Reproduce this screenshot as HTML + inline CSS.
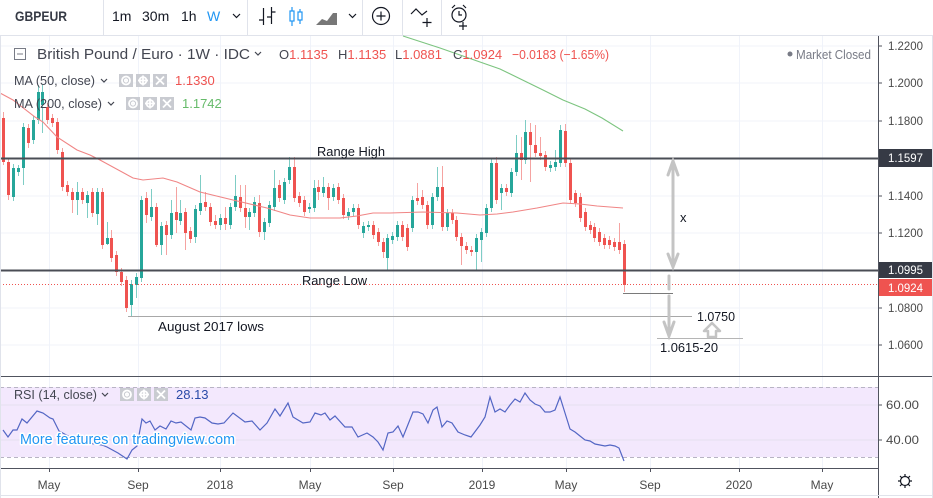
<!DOCTYPE html>
<html><head><meta charset="utf-8"><style>
html,body{margin:0;padding:0;background:#fff;overflow:hidden;width:933px;height:498px}
svg{display:block;font-family:"Liberation Sans",sans-serif}
</style></head><body>
<svg id="s" width="933" height="498" viewBox="0 0 933 498" xmlns="http://www.w3.org/2000/svg">
<rect width="933" height="498" fill="#fff"/>
<!-- toolbar -->
<line x1="0" y1="35.5" x2="933" y2="35.5" stroke="#e0e3eb"/>
<g stroke="#e0e3eb">
<line x1="103.5" y1="0" x2="103.5" y2="35"/><line x1="247.5" y1="0" x2="247.5" y2="35"/>
<line x1="362.5" y1="0" x2="362.5" y2="35"/><line x1="402.5" y1="0" x2="402.5" y2="35"/>
<line x1="441.5" y1="0" x2="441.5" y2="35"/>
</g>
<text x="15" y="21" font-size="14" font-weight="bold" fill="#363a45" textLength="52" lengthAdjust="spacingAndGlyphs">GBPEUR</text>
<g font-size="14" fill="#131722">
<text x="112" y="21">1m</text><text x="142" y="21">30m</text><text x="181" y="21">1h</text>
<text x="207" y="21" fill="#2196f3">W</text>
</g>
<g fill="none" stroke="#131722" stroke-width="1.2">
<path d="M233 14l3.5 3.5 3.5-3.5"/><path d="M349 14l3.5 3.5 3.5-3.5"/>
<path d="M263.5 8v17M259 20h4.5M271.5 7v17M271.5 12h4M267 17h4.5"/>
<circle cx="381" cy="16" r="8.5"/><path d="M381 11.5v9M376.5 16h9"/>
<path d="M411 14l5-5 6 6 5-4M427 18v9M422.5 22.5h9"/>
<circle cx="459" cy="15" r="7"/><path d="M459 11v4h3M452 8l3-3M466 8l-3-3M463 22v8M459 26h8"/>
</g>
<g fill="none" stroke="#2196f3" stroke-width="1.2">
<path d="M292 7v19M300 9v15"/><rect x="290" y="11" width="4" height="10" fill="#fff"/><rect x="298" y="12" width="4" height="8" fill="#fff"/>
</g>
<path d="M316 25l6-6 5 2 6-8h4v12z" fill="#777"/>
<!-- grid -->
<g stroke="#f0f3fa" stroke-width="1">
<line x1="0" y1="46" x2="878" y2="46"/><line x1="0" y1="83" x2="878" y2="83"/>
<line x1="0" y1="121" x2="878" y2="121"/><line x1="0" y1="158" x2="878" y2="158"/>
<line x1="0" y1="196" x2="878" y2="196"/><line x1="0" y1="233" x2="878" y2="233"/>
<line x1="0" y1="270" x2="878" y2="270"/><line x1="0" y1="308" x2="878" y2="308"/>
<line x1="0" y1="345" x2="878" y2="345"/>
<line x1="49.5" y1="36" x2="49.5" y2="468"/><line x1="138.5" y1="36" x2="138.5" y2="468"/>
<line x1="220.5" y1="36" x2="220.5" y2="468"/><line x1="310.5" y1="36" x2="310.5" y2="468"/>
<line x1="393.5" y1="36" x2="393.5" y2="468"/><line x1="482.5" y1="36" x2="482.5" y2="468"/>
<line x1="566.5" y1="36" x2="566.5" y2="468"/><line x1="650.5" y1="36" x2="650.5" y2="468"/>
<line x1="739.5" y1="36" x2="739.5" y2="468"/><line x1="822.5" y1="36" x2="822.5" y2="468"/>
</g>
<!-- RSI band -->
<rect x="0" y="387" width="878" height="70" fill="#f3e8fd"/>
<g stroke="#e6e0f0"><line x1="0" y1="405" x2="878" y2="405"/><line x1="0" y1="440" x2="878" y2="440"/></g>
<g stroke="#b8b4c4" stroke-dasharray="4 3"><line x1="0" y1="387.5" x2="878" y2="387.5"/><line x1="0" y1="457.5" x2="878" y2="457.5"/></g>
<!-- candles -->
<g id="c"></g>
<!-- MAs -->
<polyline fill="none" stroke="#f08585" stroke-width="1.1" points="0,93 13,100 35,117 43,122 57,137 77,150 90,155 100,160 133,178 143,180 163,178 177,182 200,192 233,200 267,208 290,215 310,218 340,218 357,216 373,213 390,213 423,212 457,213 480,215 497,214 513,212 537,208 563,203 580,204 597,206 623,208"/>
<polyline fill="none" stroke="#7cc47f" stroke-width="1.1" points="403,36 440,48 480,62 500,69 543,90 563,100 585,109 602,118 623,131"/>
<!-- drawings -->
<line x1="0" y1="158.5" x2="878" y2="158.5" stroke="#4a4d55" stroke-width="2"/>
<line x1="0" y1="270.5" x2="878" y2="270.5" stroke="#4a4d55" stroke-width="2"/>
<line x1="0" y1="284.5" x2="878" y2="284.5" stroke="#ef5350" stroke-width="1" stroke-dasharray="1 2"/>
<line x1="128" y1="316.5" x2="692" y2="316.5" stroke="#a8a8a8"/>
<line x1="623" y1="293.5" x2="673" y2="293.5" stroke="#7a7a7a"/>
<line x1="657" y1="338.5" x2="743" y2="338.5" stroke="#b5b5b5"/>
<g stroke="#c4c4c4" stroke-width="3" fill="none" stroke-linecap="round">
<path d="M673 162V266M668 175l5-14 5 14M668 254l5 13 5-13"/>
<path d="M669 276V289M669 296V336M664 322l5 14 5-14"/>
</g>
<polygon points="712,323 720,331 716,331 716,337 708,337 708,331 704,331" fill="#fff" stroke="#c4c4c4" stroke-width="2.5" stroke-linejoin="round"/>
<g font-size="13" fill="#131722">
<text x="317" y="156" textLength="68" lengthAdjust="spacingAndGlyphs">Range High</text>
<text x="302" y="285" textLength="65" lengthAdjust="spacingAndGlyphs">Range Low</text>
<text x="158" y="331" textLength="106" lengthAdjust="spacingAndGlyphs">August 2017 lows</text>
<text x="697" y="321" textLength="38" lengthAdjust="spacingAndGlyphs">1.0750</text>
<text x="660" y="352" textLength="58" lengthAdjust="spacingAndGlyphs">1.0615-20</text>
<text x="680" y="222">x</text>
</g>
<!-- legend -->
<rect x="14.5" y="48.5" width="11" height="11" fill="none" stroke="#787b86"/><line x1="17" y1="54" x2="23" y2="54" stroke="#787b86"/>
<text x="37" y="59" font-size="14.5" fill="#434651" textLength="213" lengthAdjust="spacingAndGlyphs">British Pound / Euro · 1W · IDC</text>
<path d="M255 52l3 3 3-3" fill="none" stroke="#434651" stroke-width="1.2"/>
<g font-size="13">
<text x="279" y="59" fill="#434651">O<tspan fill="#ef5350">1.1135</tspan></text>
<text x="338" y="59" fill="#434651">H<tspan fill="#ef5350">1.1135</tspan></text>
<text x="395" y="59" fill="#434651">L<tspan fill="#ef5350">1.0881</tspan></text>
<text x="453" y="59" fill="#434651">C<tspan fill="#ef5350">1.0924</tspan></text>
<text x="512" y="59" fill="#ef5350" textLength="97" lengthAdjust="spacingAndGlyphs">−0.0183 (−1.65%)</text>
</g>
<circle cx="790" cy="54" r="2.5" fill="#787b86"/>
<text x="796" y="59" font-size="13" fill="#787b86" textLength="75" lengthAdjust="spacingAndGlyphs">Market Closed</text>
<g font-size="13" fill="#434651">
<text x="14" y="85" textLength="81" lengthAdjust="spacingAndGlyphs">MA (50, close)</text>
<text x="14" y="108" textLength="88" lengthAdjust="spacingAndGlyphs">MA (200, close)</text>
<text x="14" y="399" textLength="83" lengthAdjust="spacingAndGlyphs">RSI (14, close)</text>
</g>
<g fill="none" stroke="#434651" stroke-width="1.2">
<path d="M101 79l3 3 3-3"/><path d="M108 102l3 3 3-3"/><path d="M102 393l3 3 3-3"/>
</g>
<g id="icons"></g>
<text x="175" y="85" font-size="13" fill="#ef5350">1.1330</text>
<text x="182" y="108" font-size="13" fill="#66bb6a">1.1742</text>
<text x="176" y="399" font-size="13" fill="#2a4aa8">28.13</text>
<!-- RSI line -->
<polyline fill="none" stroke="#5366c4" stroke-width="1.2" points="3,430 8,437 13,430 17,430 22,419 27,423 37,411 43,413 50,418 53,419 59,431 70,437 85,443 95,444 102,445 107,447 118,453 127,459 132,450 137,446 142,419 146,423 150,421 155,430 160,426 166,429 171,421 176,423 181,422 191,430 195,418 200,417 205,418 212,423 218,424 224,423 233,413 245,422 252,421 260,430 267,423 275,409 280,416 288,403 293,417 303,423 310,422 315,413 321,415 325,413 330,420 335,416 345,427 352,427 358,437 367,433 373,437 378,442 383,450 388,433 393,432 398,426 403,437 413,412 418,412 423,414 428,423 433,410 437,407 442,427 447,421 452,423 458,432 465,435 471,437 480,425 485,417 490,397 495,412 500,409 505,412 510,405 515,399 520,402 525,393 530,400 535,404 540,406 545,412 550,412 555,410 560,397 565,413 570,429 575,432 580,436 585,440 590,441 595,444 600,445 605,446 610,445 615,446 619,448 624,461"/>
<text x="20" y="444" font-size="14.5" fill="#2196f3" stroke="#fff" stroke-width="3" paint-order="stroke" stroke-linejoin="round" textLength="215" lengthAdjust="spacingAndGlyphs">More features on tradingview.com</text>
<!-- pane borders -->
<line x1="0" y1="376.5" x2="878" y2="376.5" stroke="#50535e"/>
<line x1="0" y1="468.5" x2="878" y2="468.5" stroke="#50535e"/>
<line x1="878.5" y1="36" x2="878.5" y2="498" stroke="#50535e"/>
<line x1="0" y1="376.5" x2="933" y2="376.5" stroke="#50535e"/>
<line x1="0.5" y1="36" x2="0.5" y2="498" stroke="#e0e3eb"/>
<line x1="932.5" y1="36" x2="932.5" y2="498" stroke="#e0e3eb"/>
<line x1="0" y1="495.5" x2="933" y2="495.5" stroke="#e0e3eb"/>
<!-- price axis -->
<g stroke="#50535e">
<line x1="878" y1="46" x2="882" y2="46"/><line x1="878" y1="83" x2="882" y2="83"/>
<line x1="878" y1="121" x2="882" y2="121"/><line x1="878" y1="196" x2="882" y2="196"/>
<line x1="878" y1="233" x2="882" y2="233"/><line x1="878" y1="308" x2="882" y2="308"/>
<line x1="878" y1="345" x2="882" y2="345"/><line x1="878" y1="405" x2="882" y2="405"/>
<line x1="878" y1="440" x2="882" y2="440"/>
</g>
<g font-size="12" fill="#4a4a4a">
<text x="888" y="50" textLength="35" lengthAdjust="spacingAndGlyphs">1.2200</text>
<text x="888" y="87" textLength="35" lengthAdjust="spacingAndGlyphs">1.2000</text>
<text x="888" y="125" textLength="35" lengthAdjust="spacingAndGlyphs">1.1800</text>
<text x="888" y="200" textLength="35" lengthAdjust="spacingAndGlyphs">1.1400</text>
<text x="888" y="237" textLength="35" lengthAdjust="spacingAndGlyphs">1.1200</text>
<text x="888" y="312" textLength="35" lengthAdjust="spacingAndGlyphs">1.0800</text>
<text x="888" y="349" textLength="35" lengthAdjust="spacingAndGlyphs">1.0600</text>
<text x="886" y="409" textLength="33" lengthAdjust="spacingAndGlyphs">60.00</text>
<text x="886" y="444" textLength="33" lengthAdjust="spacingAndGlyphs">40.00</text>
</g>
<rect x="879" y="149" width="53" height="18" fill="#363a45"/>
<rect x="879" y="262" width="53" height="16" fill="#363a45"/>
<rect x="879" y="279" width="53" height="17" fill="#ef5350"/>
<g font-size="12" fill="#fff">
<text x="888" y="162" textLength="35" lengthAdjust="spacingAndGlyphs">1.1597</text>
<text x="888" y="274" textLength="35" lengthAdjust="spacingAndGlyphs">1.0995</text>
<text x="888" y="292" textLength="35" lengthAdjust="spacingAndGlyphs">1.0924</text>
</g>
<!-- time axis -->
<g stroke="#50535e">
<line x1="49.5" y1="468" x2="49.5" y2="472"/><line x1="138.5" y1="468" x2="138.5" y2="472"/>
<line x1="220.5" y1="468" x2="220.5" y2="472"/><line x1="310.5" y1="468" x2="310.5" y2="472"/>
<line x1="393.5" y1="468" x2="393.5" y2="472"/><line x1="482.5" y1="468" x2="482.5" y2="472"/>
<line x1="566.5" y1="468" x2="566.5" y2="472"/><line x1="650.5" y1="468" x2="650.5" y2="472"/>
<line x1="739.5" y1="468" x2="739.5" y2="472"/><line x1="822.5" y1="468" x2="822.5" y2="472"/>
</g>
<g font-size="12" fill="#4a4a4a" text-anchor="middle">
<text x="49" y="489">May</text><text x="138" y="489">Sep</text><text x="220" y="489">2018</text>
<text x="310" y="489">May</text><text x="393" y="489">Sep</text><text x="482" y="489">2019</text>
<text x="566" y="489">May</text><text x="650" y="489">Sep</text><text x="739" y="489">2020</text>
<text x="822" y="489">May</text>
</g>
<g fill="none" stroke="#131722" stroke-width="1.2">
<circle cx="905" cy="481" r="4.5"/>
<path d="M905 474v2.5M905 485.5v2.5M898 481h2.5M909.5 481h2.5M900 476l1.8 1.8M908.2 484.2l1.8 1.8M910 476l-1.8 1.8M901.8 484.2l-1.8 1.8"/>
</g>
</svg>
<script>
(function(){
var NS="http://www.w3.org/2000/svg";
var D=[
[118,162,112,165],[162,195,0,200],[197,168,0,0],[172,168,165,176],[168,127,0,185],[128,143,0,148],[140,120,0,0],[120,92,85,0],[105,92,85,133],[107,120,0,0],
[118,123,0,0],[122,150,0,0],[152,187,0,0],[185,192,0,0],[192,200,0,213],[200,192,182,215],[192,200,0,0],[203,195,0,218],[192,213,0,0],[214,192,188,225],
[192,245,0,0],[244,238,222,245],[238,258,230,0],[255,272,0,0],[272,282,0,0],[280,308,0,0],[305,284,0,316],[285,277,0,298],
[278,200,0,0],[198,215,192,223],[217,207,189,0],[207,245,0,247],[245,226,0,255],[225,235,0,255],[235,213,200,0],[212,220,187,233],[221,213,200,0],[212,233,0,250],
[231,239,0,0],[237,209,0,243],[211,203,175,0],[202,207,192,0],[207,222,0,0],[221,225,215,0],[225,218,0,230],[218,224,207,230],[225,207,0,0],[207,196,175,0],
[197,208,185,0],[208,217,185,228],[217,212,0,230],[213,202,197,0],[203,232,195,237],[232,222,0,240],[223,205,0,0],[207,188,170,0],[185,198,180,0],[200,182,0,0],
[180,167,157,0],
[167,198,157,0],[196,203,0,0],
[200,212,0,0],[209,207,0,0],[208,188,180,0],[187,192,180,200],[193,187,177,0],[187,198,183,210],[197,188,0,0],[187,200,0,0],[198,215,0,0],[216,212,0,0],
[212,208,0,0],[208,225,0,0],[233,226,0,238],[227,225,0,0],[225,235,0,0],[232,242,0,0],[242,252,0,258],[258,238,0,270],[240,236,0,0],[237,225,0,0],
[225,237,0,0],[228,247,0,0],[228,200,0,0],[198,201,183,0],[197,205,190,0],[205,225,0,0],[225,197,0,0],[197,187,167,0],[187,227,166,0],[227,213,0,0],
[213,220,0,0],[220,237,0,0],[237,246,0,265],[246,250,0,0],[250,252,0,0],[252,238,0,270],[240,232,0,262],[233,208,0,0],[208,163,0,0],[163,200,157,0],
[193,188,0,210],[188,192,0,0],[193,172,0,0],[172,153,135,0],[153,160,137,180],[160,132,120,0],[132,145,123,182],[145,153,125,0],[153,156,137,0],[155,167,0,0],
[168,165,0,0],[167,162,150,0],[163,130,125,0],[131,163,124,0],[163,200,0,0],[193,203,190,0],[197,218,0,0],[212,227,208,0],[225,230,0,0],[227,238,0,0],
[232,242,0,0],[238,245,0,0],[240,245,0,0],[242,247,0,0],[242,250,223,0],[244,285,0,292]
];
var g=document.getElementById("c");
var n=D.length, step=(624-3)/(n-1);
for(var i=0;i<n;i++){
 var d=D[i],o=d[0],c=d[1];
 var up=c<o;
 var top=Math.min(o,c),bot=Math.max(o,c);
 var hi=d[2]||top-4,lo=d[3]||bot+4;
 var x=Math.round(3+i*step);
 var w=document.createElementNS(NS,"line");
 w.setAttribute("x1",x+0.5);w.setAttribute("x2",x+0.5);
 w.setAttribute("y1",hi);w.setAttribute("y2",lo);
 w.setAttribute("stroke",up?"#7fcdc5":"#f5a3a1");
 g.appendChild(w);
 var r=document.createElementNS(NS,"rect");
 r.setAttribute("x",x-1);r.setAttribute("width",3);
 r.setAttribute("y",top);r.setAttribute("height",Math.max(1,bot-top));
 r.setAttribute("fill",up?"#26a69a":"#ef5350");
 g.appendChild(r);
}
var ic=document.getElementById("icons");
function icons(x0,y0){
 for(var k=0;k<3;k++){
  var bx=x0+k*17;
  var r=document.createElementNS(NS,"rect");
  r.setAttribute("x",bx);r.setAttribute("y",y0);r.setAttribute("width",14);r.setAttribute("height",13);
  r.setAttribute("fill","#c9cbd1");ic.appendChild(r);
  var p=document.createElementNS(NS,"path");
  var cx=bx+7,cy=y0+6.5,dd;
  if(k==0)dd="M"+(cx-4)+" "+cy+"a4 4 0 1 0 8 0a4 4 0 1 0 -8 0M"+(cx-1.2)+" "+cy+"a1.2 1.2 0 1 0 2.4 0a1.2 1.2 0 1 0 -2.4 0";
  else if(k==1)dd="M"+(cx-3.5)+" "+cy+"a3.5 3.5 0 1 0 7 0a3.5 3.5 0 1 0 -7 0M"+cx+" "+(cy-5)+"v10M"+(cx-5)+" "+cy+"h10";
  else dd="M"+(cx-4)+" "+(cy-4)+"l8 8M"+(cx+4)+" "+(cy-4)+"l-8 8";
  p.setAttribute("d",dd);p.setAttribute("fill","none");p.setAttribute("stroke","#fff");p.setAttribute("stroke-width","1.8");
  ic.appendChild(p);
 }
}
icons(119,74);icons(126,97);icons(120,388);
})();
</script>
</body></html>
